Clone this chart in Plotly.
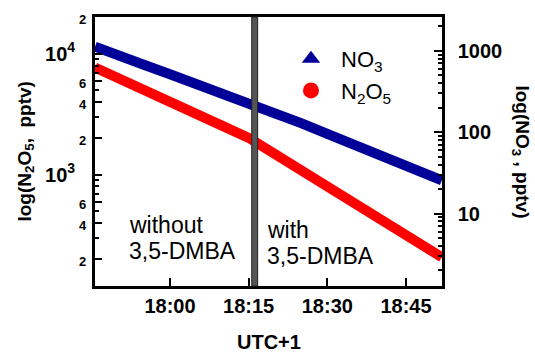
import pandas as pd
import plotly.graph_objects as go

# Sampling times (UTC+1) and mixing ratios
day = "2018-01-01 "
times = ["17:45:42", "17:46:00", "17:50:00", "17:55:00", "18:00:00", "18:05:00",
         "18:10:00", "18:15:00", "18:20:00", "18:25:00", "18:30:00", "18:35:00",
         "18:40:00", "18:45:00", "18:50:00", "18:51:50"]
no3_pptv = [1120, 1100, 887, 674, 515, 394, 300, 229, 172, 129, 95, 70, 52, 38.6, 28.6, 25.6]
n2o5_pptv = [7700, 7590, 6320, 5030, 4010, 3190, 2540, 2020, 1490, 1094, 804, 590, 433, 318, 233, 208]

# 3,5-DMBA injection window
dmba_start = "18:15:35"
dmba_end = "18:16:43"

# axis windows
x_start, x_end = "17:45:42", "18:51:52"
x_ticks = ["18:00", "18:15", "18:30", "18:45"]
left_log_range = [2.08, 4.305]
right_log_range = [0.11, 3.415]

t = pd.to_datetime([day + s for s in times])

FONT = "Liberation Sans, Arial, sans-serif"
BLUE = "#000099"
RED = "#ff0000"

small = "<span style='font-size:13px'>{}</span>"
left_vals = [200, 400, 600, 1000, 2000, 4000, 6000, 10000, 20000]
left_text = [small.format(2), small.format(4), small.format(6),
             "10<sup>3</sup>&nbsp;&nbsp;",
             small.format(2), small.format(4), small.format(6),
             "10<sup>4</sup>&nbsp;&nbsp;", small.format(2)]
left_minor = [m * 10 ** e for e in (2, 3, 4) for m in range(1, 10) if m * 10 ** e <= 20000]
right_vals = [10, 100, 1000]
right_minor = [m * 10 ** e for e in (0, 1, 2, 3) for m in range(1, 10) if m * 10 ** e <= 2500]

fig = go.Figure()

fig.add_trace(go.Scatter(x=t, y=n2o5_pptv, mode="lines", yaxis="y",
                         line=dict(color=RED, width=10), showlegend=False))
fig.add_trace(go.Scatter(x=t, y=no3_pptv, mode="lines", yaxis="y2",
                         line=dict(color=BLUE, width=10), showlegend=False))

# legend entries
fig.add_trace(go.Scatter(x=[None], y=[None], mode="markers", name="NO<sub>3</sub>",
                         marker=dict(symbol="triangle-up", size=17, color=BLUE)))
fig.add_trace(go.Scatter(x=[None], y=[None], mode="markers", name="N<sub>2</sub>O<sub>5</sub>",
                         marker=dict(symbol="circle", size=16, color=RED)))

# injection bar
fig.add_shape(type="rect", xref="x", yref="paper",
              x0=pd.Timestamp(day + dmba_start), x1=pd.Timestamp(day + dmba_end),
              y0=0, y1=1, fillcolor="#555555", line=dict(color="#222222", width=1),
              layer="above")

axis_common = dict(showline=True, linecolor="black", linewidth=2.5,
                   ticks="inside", tickcolor="black", tickwidth=2, showgrid=False,
                   zeroline=False)

fig.update_layout(
    width=535, height=353,
    margin=dict(l=95, r=93, t=15, b=67),
    paper_bgcolor="white", plot_bgcolor="white",
    font=dict(family=FONT, color="black"),
    xaxis=dict(type="date",
               range=[pd.Timestamp(day + x_start), pd.Timestamp(day + x_end)],
               tickvals=[pd.Timestamp(day + s) for s in x_ticks],
               ticktext=x_ticks, mirror=True, ticklen=8,
               tickfont=dict(family=FONT, size=20, weight="bold"),
               **axis_common),
    yaxis=dict(type="log", range=left_log_range, tickvals=left_vals, ticktext=left_text,
               ticklen=7, ticklabelstandoff=2,
               minor=dict(tickvals=left_minor, ticklen=4, ticks="inside",
                          tickcolor="black", tickwidth=2),
               tickfont=dict(family=FONT, size=20, weight="bold"),
               **axis_common),
    yaxis2=dict(type="log", range=right_log_range, overlaying="y", side="right",
                tickvals=right_vals, ticktext=[str(v) for v in right_vals],
                ticklen=8, ticklabelstandoff=9,
                minor=dict(tickvals=right_minor, ticklen=4, ticks="inside",
                           tickcolor="black", tickwidth=2),
                tickfont=dict(family=FONT, size=20, weight="bold"),
                **axis_common),
    legend=dict(x=0.536, y=0.922, xanchor="left", yanchor="top",
                bgcolor="rgba(0,0,0,0)", itemwidth=50,
                font=dict(family=FONT, size=22), tracegroupgap=0),
    annotations=[
        dict(text="log(N<sub>2</sub>O<sub>5</sub>,  pptv)", xref="paper", yref="paper",
             x=-0.2017, y=0.5, xanchor="center", yanchor="middle",
             textangle=-90, showarrow=False,
             font=dict(family=FONT, size=19, weight="bold")),
        dict(text="log(NO<sub>3</sub> , pptv)", xref="paper", yref="paper",
             x=1.2277, y=0.5, xanchor="center", yanchor="middle",
             textangle=90, showarrow=False,
             font=dict(family=FONT, size=19, weight="bold")),
        dict(text="UTC+1", xref="paper", yref="paper", x=0.5, y=-0.21,
             xanchor="center", yanchor="middle", showarrow=False,
             font=dict(family=FONT, size=20, weight="bold")),
        dict(text="without", xref="paper", yref="paper", x=0.092, y=0.225,
             xanchor="left", yanchor="middle", showarrow=False,
             font=dict(family=FONT, size=23)),
        dict(text="3,5-DMBA", xref="paper", yref="paper", x=0.092, y=0.129,
             xanchor="left", yanchor="middle", showarrow=False,
             font=dict(family=FONT, size=23)),
        dict(text="with", xref="paper", yref="paper", x=0.490, y=0.207,
             xanchor="left", yanchor="middle", showarrow=False,
             font=dict(family=FONT, size=23)),
        dict(text="3,5-DMBA", xref="paper", yref="paper", x=0.490, y=0.111,
             xanchor="left", yanchor="middle", showarrow=False,
             font=dict(family=FONT, size=23)),
    ],
)

fig.write_html("out.html")
